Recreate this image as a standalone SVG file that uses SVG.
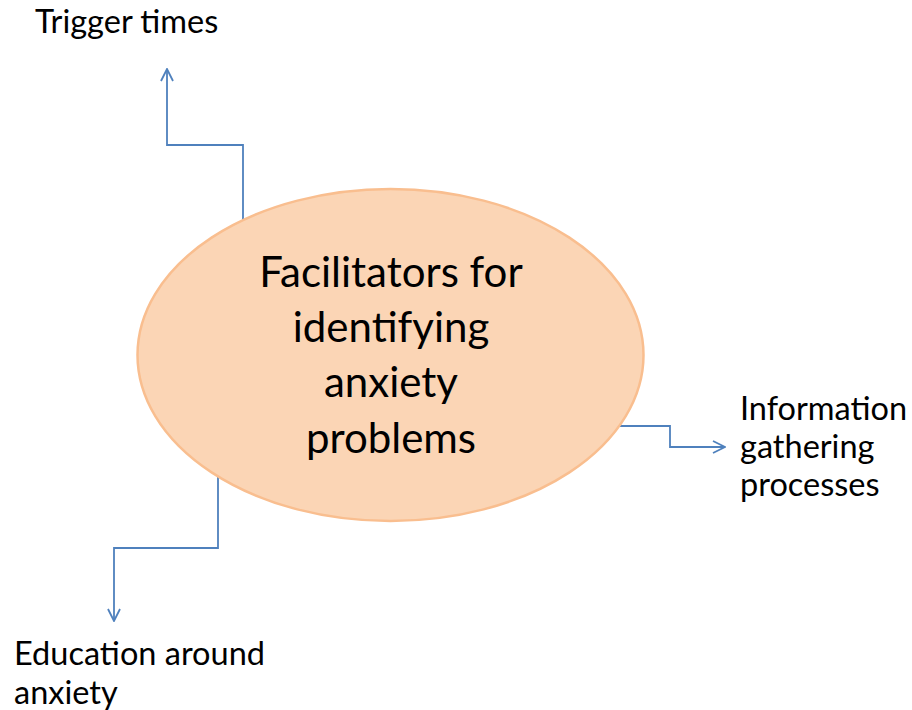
<svg xmlns="http://www.w3.org/2000/svg" width="912" height="710" viewBox="0 0 912 710">
<defs>
<style>
.lbl{font-family:Lato,"Open Sans","Liberation Sans",sans-serif;fill:#000}
.side{font-size:32.5px}
.main{font-size:42px}
.conn{fill:none;stroke:#4F81BD;stroke-width:1.8}
</style>
<marker id="arr" viewBox="0 0 14 14" refX="13" refY="7" markerWidth="14" markerHeight="14" markerUnits="userSpaceOnUse" orient="auto">
<path d="M1,1 L13,7 L1,13" fill="none" stroke="#4F81BD" stroke-width="1.8"/>
</marker>
</defs>
<rect width="912" height="710" fill="#fff"/>
<g id="connectors">
<path class="conn" d="M243,220 V145 H167 V69" stroke-width="2" marker-end="url(#arr)"/>
<path class="conn" d="M617,426 H670 V447 H725" marker-end="url(#arr)"/>
<path class="conn" d="M218,475 V548 H114 V621" marker-end="url(#arr)"/>
</g>
<g id="center">
<ellipse cx="390.5" cy="355" rx="253" ry="166" fill="#FBD5B5" stroke="#F9BE8F" stroke-width="2.5"/>
<text class="lbl main" text-anchor="middle" x="391" y="287">Facilitators for</text>
<text class="lbl main" text-anchor="middle" x="391" y="342">identifying</text>
<text class="lbl main" text-anchor="middle" x="391" y="397">anxiety</text>
<text class="lbl main" text-anchor="middle" x="391" y="453">problems</text>
</g>
<g id="trigger">
<text class="lbl side" x="35" y="33">Trigger times</text>
</g>
<g id="info">
<text class="lbl side" x="740" y="420">Information</text>
<text class="lbl side" x="740" y="458">gathering</text>
<text class="lbl side" x="740" y="496">processes</text>
</g>
<g id="education">
<text class="lbl side" x="14" y="665">Education around</text>
<text class="lbl side" x="14" y="704">anxiety</text>
</g>
</svg>
